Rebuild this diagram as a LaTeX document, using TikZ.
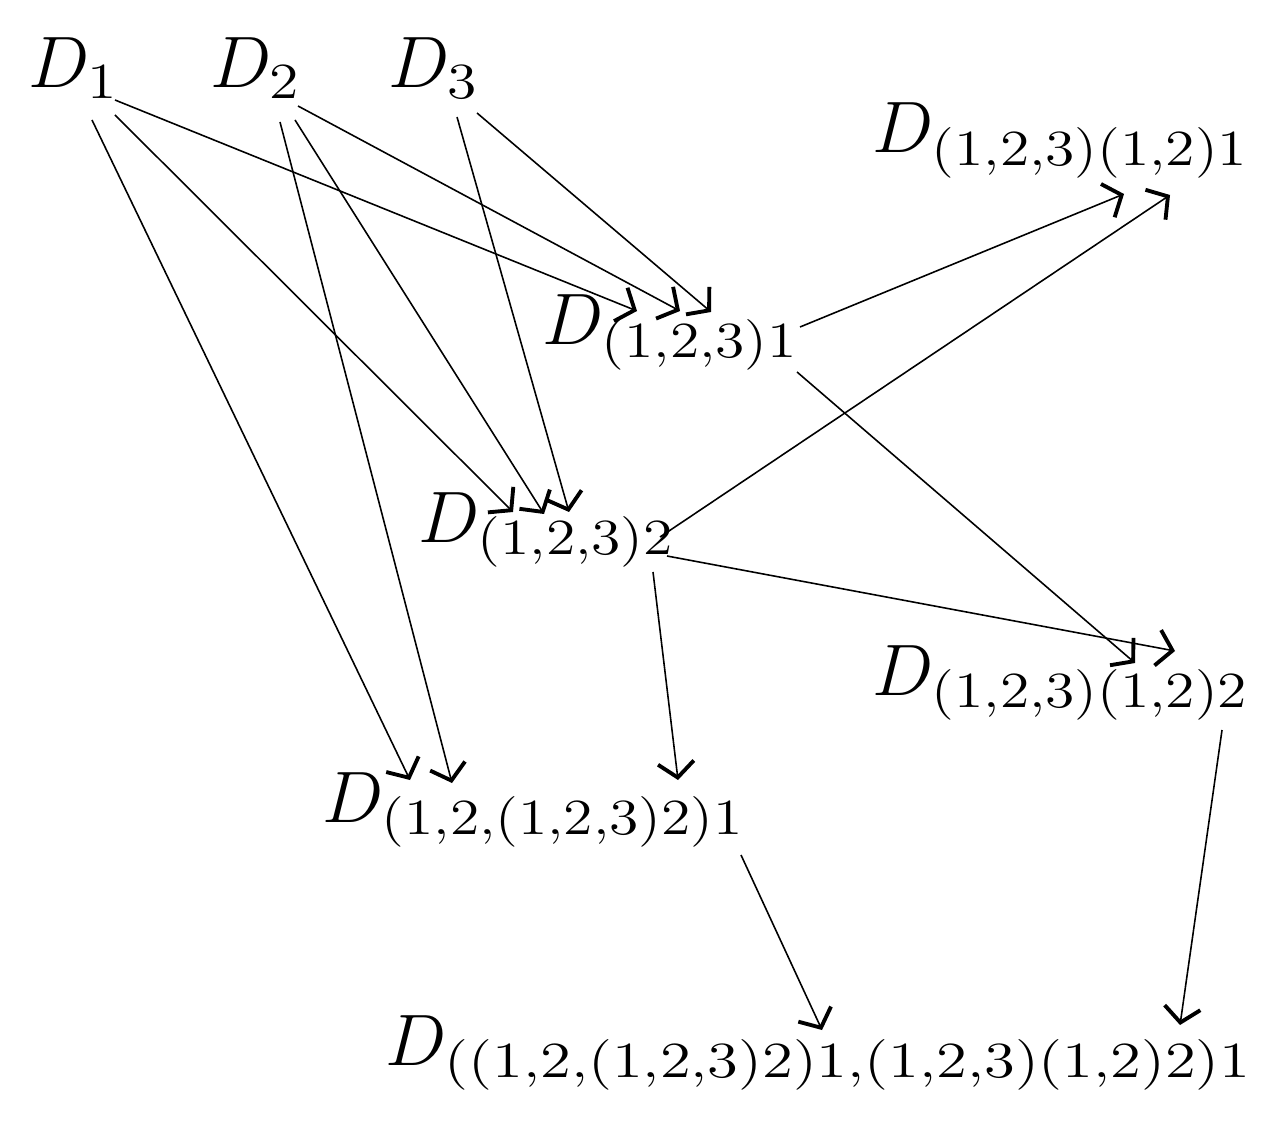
\documentclass[tikz,border=0pt]{standalone}
\usepackage{amsmath}
\usepackage{graphicx}
\usepackage{tikz}
\usetikzlibrary{arrows.meta}
\newcommand{\Dsub}[2][1.18]{D_{\scalebox{#1}[1]{\fontsize{15}{18}\selectfont$\thinmuskip=0mu #2$}}}

\begin{document}
\begin{tikzpicture}[
  every node/.style={font=\fontsize{21}{25}\selectfont, inner sep=0pt, anchor=base west},
  link/.style={-{Straight Barb[length=1.5mm,width=3.6mm,line width=1.1pt]}, line width=0.45pt}]
\useasboundingbox (0,0) rectangle (12.8,-11.24);
% Sources
\node (d1) at (0.28,-0.88) {$\Dsub{1}$};
\node (d2) at (2.10,-0.88) {$\Dsub{2}$};
\node (d3) at (3.88,-0.88) {$\Dsub{3}$};

% First level
\node (d1231) at (5.42,-3.45) {$\Dsub{(1,2,3)1}$};
\node (d1232) at (4.18,-5.42) {$\Dsub{(1,2,3)2}$};

% Second level
\node (d12a) at (8.72,-1.53) {$\Dsub{(1,2,3)(1,2)1}$};
\node (d12b) at (8.72,-6.95) {$\Dsub{(1,2,3)(1,2)2}$};
\node (dmix) at (3.22,-8.22) {$\Dsub{(1,2,(1,2,3)2)1}$};

% Last level
\node (dlast) at (3.85,-10.65) {$\Dsub[1.24]{((1,2,(1,2,3)2)1,(1,2,3)(1,2)2)1}$};

% Links from D_1
\draw[link] ([shift={(0.87,-0.12)}]d1.base west) -- ([shift={(0.95,0.34)}]d1231.base west);
\draw[link] ([shift={(0.87,-0.27)}]d1.base west) -- ([shift={(0.95,0.30)}]d1232.base west);
\draw[link] ([shift={(0.64,-0.32)}]d1.base west) -- ([shift={(0.88,0.42)}]dmix.base west);

% Links from D_2
\draw[link] ([shift={(0.88,-0.18)}]d2.base west) -- ([shift={(1.38,0.34)}]d1231.base west);
\draw[link] ([shift={(0.85,-0.32)}]d2.base west) -- ([shift={(1.26,0.28)}]d1232.base west);
\draw[link] ([shift={(0.70,-0.34)}]d2.base west) -- ([shift={(1.30,0.39)}]dmix.base west);

% Links from D_3
\draw[link] ([shift={(0.89,-0.25)}]d3.base west) -- ([shift={(1.69,0.33)}]d1231.base west);
\draw[link] ([shift={(0.69,-0.29)}]d3.base west) -- ([shift={(1.51,0.30)}]d1232.base west);

% Links from the first level
\draw[link] ([shift={(2.58,0.18)}]d1231.base west) -- ([shift={(2.52,-0.41)}]d12a.base west);
\draw[link] ([shift={(2.55,-0.27)}]d1231.base west) -- ([shift={(2.63,0.32)}]d12b.base west);
\draw[link] ([shift={(2.42,0.05)}]d1232.base west) -- ([shift={(2.98,-0.42)}]d12a.base west);
\draw[link] ([shift={(2.49,-0.14)}]d1232.base west) -- ([shift={(3.03,0.44)}]d12b.base west);
\draw[link] ([shift={(2.35,-0.30)}]d1232.base west) -- ([shift={(3.56,0.42)}]dmix.base west);

% Links to the last level
\draw[link] ([shift={(4.19,-0.33)}]dmix.base west) -- ([shift={(4.37,0.35)}]dlast.base west);
\draw[link] ([shift={(3.50,-0.35)}]d12b.base west) -- ([shift={(7.95,0.40)}]dlast.base west);
\end{tikzpicture}
\end{document}
